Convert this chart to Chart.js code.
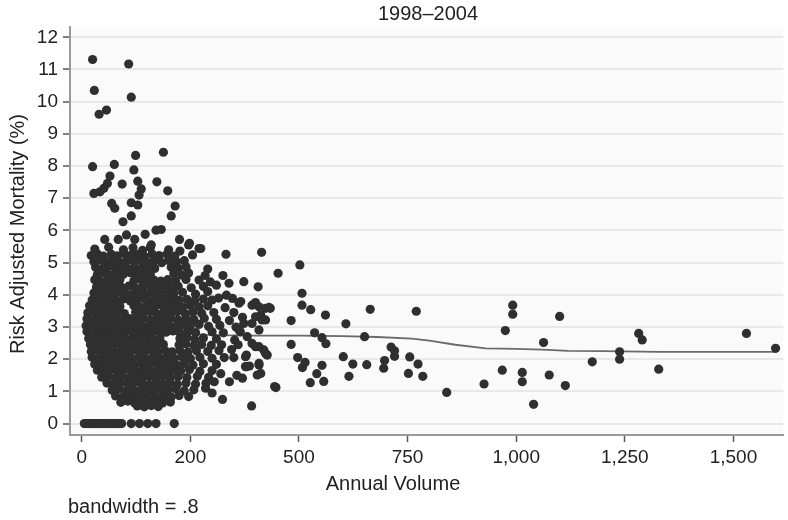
<!DOCTYPE html>
<html><head><meta charset="utf-8">
<script src="https://cdn.jsdelivr.net/npm/chart.js@4/dist/chart.umd.min.js"></script>
<style>html,body{margin:0;padding:0;background:#fff}#wrap{width:788px;height:520px;position:relative}</style>
</head><body><div id="wrap"><canvas id="c" width="788" height="520"></canvas></div>
<script>
const titleText = '1998\u20132004';
const xAxisTitle = 'Annual Volume';
const yAxisTitle = 'Risk Adjusted Mortality (%)';
const noteText = 'bandwidth = .8';
const xTickValues = [0, 250, 500, 750, 1000, 1250, 1500];
const xTickLabels = ['0', '200', '500', '750', '1,000', '1,250', '1,500'];
const yTickValues = [0,1,2,3,4,5,6,7,8,9,10,11,12];

// hospitals with zero observed mortality
const zeroVolumes = [6,11,16,21,26,31,36,41,46,51,56,61,66,71,76,81,86,92,114,133,152,171,213];

// upper points (mortality above ~5.3)
const highPoints = [[25,11.31],[108,11.17],[29,10.35],[114,10.14],[40,9.61],[57,9.74],[25,7.98],[75,8.05],[124,8.33],[188,8.43],[120,7.88],[28,7.15],[42,7.2],[51,7.31],[59,7.46],[65,7.69],[93,7.44],[129,7.53],[137,7.29],[132,7.1],[173,7.51],[198,7.23],[69,6.84],[76,6.69],[114,6.86],[129,6.79],[215,6.76],[206,6.45],[114,6.45],[95,6.27],[146,5.88],[171,6.01],[183,6.03],[53,5.72],[84,5.72],[103,5.86],[122,5.72],[160,5.55],[225,5.72],[246,5.55],[270,5.44],[332,5.26],[414,5.32],[30,5.18],[248,5.6],[274,5.44]];

// dense cloud of low-volume hospitals
const cloudPoints = [
[30,5.42],[62,5.48],[96,5.40],[118,5.46],[140,5.38],[158,5.47],[200,5.40],[226,5.36],
[22,5.22],[36,5.27],[50,5.20],[68,5.26],[82,5.21],[98,5.28],[112,5.22],[128,5.25],[144,5.19],[162,5.27],[178,5.22],[196,5.26],[214,5.20],[255,5.24],
[28,5.03],[44,5.08],[58,5.02],[74,5.07],[88,5.01],[104,5.06],[120,5.04],[134,5.09],[150,5.02],[166,5.05],[184,5.00],[200,5.07],[218,5.03],[236,5.06],
[32,4.86],[48,4.82],[62,4.88],[78,4.83],[92,4.87],[108,4.81],[122,4.86],[138,4.84],[154,4.88],[168,4.82],[206,4.86],[222,4.83],[240,4.87],[290,4.80],
[36,4.63],[52,4.68],[66,4.62],[80,4.66],[96,4.64],[112,4.69],[128,4.62],[144,4.67],[158,4.63],[212,4.66],[230,4.62],[246,4.68],[284,4.60],[325,4.60],
[30,4.47],[44,4.42],[60,4.46],[74,4.43],[88,4.48],[120,4.44],[136,4.47],[150,4.42],[166,4.46],[182,4.43],[198,4.47],[216,4.44],[240,4.48],[270,4.46],[296,4.40],
[34,4.24],[48,4.28],[64,4.22],[78,4.26],[92,4.23],[108,4.27],[124,4.21],[140,4.25],[156,4.28],[172,4.22],[188,4.26],[204,4.23],[222,4.27],[252,4.22],[280,4.26],[310,4.30],
[28,4.06],[42,4.02],[56,4.07],[70,4.03],[86,4.08],[100,4.04],[116,4.01],[132,4.06],[148,4.03],[164,4.07],[180,4.02],[196,4.06],[212,4.04],[232,4.08],[262,4.02],[290,4.10],
[24,3.84],[38,3.88],[52,3.82],[66,3.86],[80,3.83],[96,3.87],[112,3.81],[128,3.85],[144,3.88],[160,3.82],[176,3.86],[192,3.84],[208,3.88],[224,3.83],[242,3.86],[260,3.82],[280,3.87],[300,3.84],[315,3.90],
[18,3.66],[32,3.62],[46,3.67],[60,3.63],[74,3.68],[88,3.64],[120,3.66],[136,3.62],[152,3.67],[168,3.63],[184,3.68],[200,3.64],[216,3.66],[232,3.62],[250,3.67],[270,3.63],[290,3.66],[330,3.60],
[14,3.44],[28,3.48],[42,3.42],[56,3.46],[70,3.43],[84,3.47],[98,3.42],[124,3.46],[140,3.43],[156,3.48],[172,3.42],[188,3.46],[204,3.44],[220,3.48],[238,3.42],[256,3.46],[276,3.43],[304,3.45],[350,3.45],
[12,3.26],[24,3.22],[38,3.27],[52,3.23],[66,3.28],[80,3.24],[94,3.21],[110,3.26],[126,3.23],[142,3.27],[158,3.22],[174,3.26],[190,3.24],[206,3.28],[222,3.22],[240,3.26],[258,3.23],[282,3.27],[310,3.24],[340,3.20],[370,3.30],
[10,3.04],[20,3.08],[34,3.02],[48,3.06],[62,3.03],[76,3.07],[90,3.02],[104,3.06],[120,3.04],[136,3.08],[152,3.02],[168,3.06],[184,3.03],[200,3.07],[216,3.02],[232,3.06],[250,3.04],[270,3.08],[292,3.02],[318,3.05],[355,3.00],
[12,2.86],[26,2.82],[40,2.87],[54,2.83],[68,2.88],[82,2.84],[98,2.81],[114,2.86],[130,2.83],[146,2.87],[162,2.82],[178,2.86],[194,2.84],[210,2.88],[226,2.82],[244,2.86],[262,2.83],[300,2.85],[326,2.82],[365,2.85],
[16,2.64],[30,2.68],[44,2.62],[58,2.66],[72,2.63],[86,2.67],[100,2.62],[116,2.66],[132,2.64],[148,2.68],[164,2.62],[180,2.66],[226,2.64],[242,2.68],[260,2.62],[280,2.66],[310,2.63],[352,2.60],
[20,2.46],[34,2.42],[48,2.47],[62,2.43],[76,2.48],[92,2.44],[108,2.41],[124,2.46],[140,2.43],[156,2.47],[172,2.42],[188,2.46],[224,2.44],[240,2.48],[258,2.42],[276,2.46],[298,2.43],[322,2.45],[360,2.45],
[22,2.24],[36,2.28],[50,2.22],[64,2.26],[80,2.23],[96,2.27],[112,2.22],[128,2.26],[144,2.24],[160,2.28],[176,2.22],[192,2.26],[208,2.23],[226,2.27],[244,2.22],[264,2.26],[290,2.24],[316,2.27],[345,2.30],
[24,2.06],[38,2.02],[52,2.07],[68,2.03],[84,2.08],[100,2.04],[116,2.01],[132,2.06],[148,2.03],[164,2.07],[180,2.02],[196,2.06],[212,2.04],[230,2.08],[250,2.02],[272,2.06],[300,2.03],[328,2.05],[350,2.05],
[30,1.84],[44,1.88],[58,1.82],[74,1.86],[90,1.83],[106,1.87],[122,1.82],[138,1.86],[154,1.84],[170,1.88],[186,1.82],[202,1.86],[218,1.83],[236,1.87],[256,1.82],[280,1.86],[310,1.84],
[36,1.66],[50,1.62],[66,1.67],[82,1.63],[98,1.68],[114,1.64],[130,1.61],[146,1.66],[162,1.63],[178,1.67],[194,1.62],[210,1.66],[228,1.64],[248,1.68],[272,1.62],[300,1.65],[320,1.55],
[46,1.44],[60,1.48],[76,1.42],[92,1.46],[108,1.43],[124,1.47],[140,1.42],[156,1.46],[172,1.44],[188,1.48],[204,1.42],[222,1.46],[242,1.43],[266,1.47],[292,1.44],[357,1.50],
[58,1.26],[74,1.22],[90,1.27],[106,1.23],[122,1.28],[138,1.24],[154,1.21],[170,1.26],[186,1.23],[202,1.27],[220,1.22],[240,1.26],[262,1.23],[286,1.25],[305,1.30],[340,1.30],
[70,1.04],[86,1.08],[102,1.02],[118,1.06],[134,1.03],[150,1.07],[166,1.02],[182,1.06],[198,1.04],[216,1.08],[236,1.02],[258,1.05],[285,1.10],
[78,0.86],[94,0.82],[110,0.87],[126,0.83],[142,0.88],[158,0.84],[174,0.81],[190,0.86],[206,0.83],[224,0.87],[246,0.84],[300,0.95],
[90,0.66],[106,0.70],[122,0.64],[138,0.68],[154,0.65],[170,0.69],[186,0.64],[204,0.67],
[128,0.55],[144,0.52],[160,0.56],[176,0.53]
];

// higher-volume hospitals
const rightPoints = [[452,4.67],[502,4.93],[507,4.05],[507,3.68],[527,3.54],[561,3.37],[608,3.10],[664,3.55],[651,2.70],[482,3.20],[482,2.46],[497,2.05],[514,1.90],[508,1.74],[536,2.82],[553,2.67],[562,2.48],[553,1.81],[541,1.55],[557,1.31],[526,1.27],[602,2.08],[624,1.85],[615,1.47],[656,1.83],[697,1.96],[695,1.72],[712,2.38],[720,2.26],[720,2.09],[755,2.07],[774,1.85],[752,1.56],[785,1.47],[770,3.49],[840,0.97],[926,1.23],[968,1.66],[975,2.89],[992,3.68],[992,3.40],[1014,1.59],[1014,1.30],[1040,0.60],[1063,2.52],[1076,1.51],[1100,3.33],[1113,1.18],[1175,1.92],[1238,2.23],[1238,2.00],[1282,2.80],[1290,2.60],[1328,1.69],[1530,2.80],[1597,2.34],[444,1.15],[391,0.55],[324,0.75],[406,4.25],[373,4.41],[339,4.36],[333,3.99],[347,3.89],[362,3.74],[400,3.76],[408,3.63],[423,3.58],[434,3.58],[412,3.37],[423,3.22],[392,3.11],[408,2.91],[381,2.70],[400,2.39],[419,2.29],[427,2.13],[379,2.13],[386,1.79],[379,1.77],[408,1.82],[404,1.51],[447,1.12],[366,3.79],[392,3.68],[431,3.61],[400,3.32],[415,3.22],[373,3.11],[362,2.91],[392,2.49],[408,2.39],[423,2.18],[377,2.08],[408,1.87],[377,1.77],[412,1.56],[370,1.41]];

// lowess smoother (bandwidth .8)
const lowessX = [8,34,80,130,180,250,300,400,500,600,680,760,800,860,930,1000,1060,1120,1200,1330,1600];
const lowessY = [3.27,3.24,3.10,2.97,2.87,2.78,2.75,2.73,2.73,2.72,2.69,2.64,2.58,2.45,2.34,2.32,2.30,2.26,2.25,2.23,2.23];

const allPoints = []
  .concat(zeroVolumes.map(v => ({x: v, y: 0})))
  .concat(cloudPoints.map(p => ({x: p[0], y: p[1]})))
  .concat(highPoints.map(p => ({x: p[0], y: p[1]})))
  .concat(rightPoints.map(p => ({x: p[0], y: p[1]})));
const lowessData = lowessX.map((x, i) => ({x: x, y: lowessY[i]}));

const FONT = '"Liberation Sans", Arial, Helvetica, sans-serif';
const textColor = '#222';

const decor = {
  id: 'decor',
  beforeDraw(chart) {
    const {ctx, chartArea: a} = chart;
    ctx.save();
    ctx.fillStyle = '#ffffff';
    ctx.fillRect(0, 0, chart.width, chart.height);
    ctx.fillStyle = '#fafafa';
    ctx.fillRect(a.left, a.top, a.right - a.left, a.bottom - a.top);
    ctx.restore();
  },
  afterDraw(chart) {
    const {ctx} = chart;
    ctx.save();
    ctx.fillStyle = textColor;
    ctx.font = '20px ' + FONT;
    ctx.textAlign = 'center';
    ctx.textBaseline = 'middle';
    ctx.fillText(titleText, 428, 14);
    ctx.fillText(xAxisTitle, 393, 484);
    ctx.textAlign = 'left';
    ctx.fillText(noteText, 68, 507);
    ctx.translate(18, 234);
    ctx.rotate(-Math.PI / 2);
    ctx.textAlign = 'center';
    ctx.fillText(yAxisTitle, 0, 0);
    ctx.restore();
  }
};

new Chart(document.getElementById('c'), {
  data: {
    datasets: [
      {type: 'line', data: lowessData, borderColor: '#6a6a6a', borderWidth: 1.8, pointRadius: 0, fill: false, tension: 0, order: 2},
      {type: 'scatter', data: allPoints, backgroundColor: '#2f2f2f', borderWidth: 0, pointRadius: 4.6, pointHoverRadius: 4.6, order: 1}
    ]
  },
  options: {
    responsive: false,
    devicePixelRatio: 1,
    animation: false,
    events: [],
    layout: {padding: {top: 27, right: 0, bottom: 0, left: 0}},
    plugins: {legend: {display: false}, tooltip: {enabled: false}, title: {display: false}},
    scales: {
      x: {
        type: 'linear', min: -27, max: 1615,
        afterFit: s => { s.height = 85; },
        afterBuildTicks: s => { s.ticks = xTickValues.map(v => ({value: v})); },
        ticks: {
          callback: (v, i) => xTickLabels[i],
          font: {size: 19, family: FONT}, color: textColor, padding: 4, maxRotation: 0, autoSkip: false
        },
        grid: {display: true, drawOnChartArea: false, drawTicks: true, tickLength: 7, tickColor: '#555', tickWidth: 1.5},
        border: {display: true, color: '#9a9a9a', width: 2}
      },
      y: {
        type: 'linear', min: -0.354, max: 12.32,
        afterFit: s => { s.width = 70; },
        afterBuildTicks: s => { s.ticks = yTickValues.map(v => ({value: v})); },
        ticks: {font: {size: 19, family: FONT}, color: textColor, padding: 5, autoSkip: false},
        grid: {display: true, drawOnChartArea: true, color: '#e8e8e8', lineWidth: 2, drawTicks: true, tickLength: 7, tickColor: '#555', tickWidth: 1.5},
        border: {display: true, color: '#9a9a9a', width: 2}
      }
    }
  },
  plugins: [decor]
});
</script>
</body></html>
